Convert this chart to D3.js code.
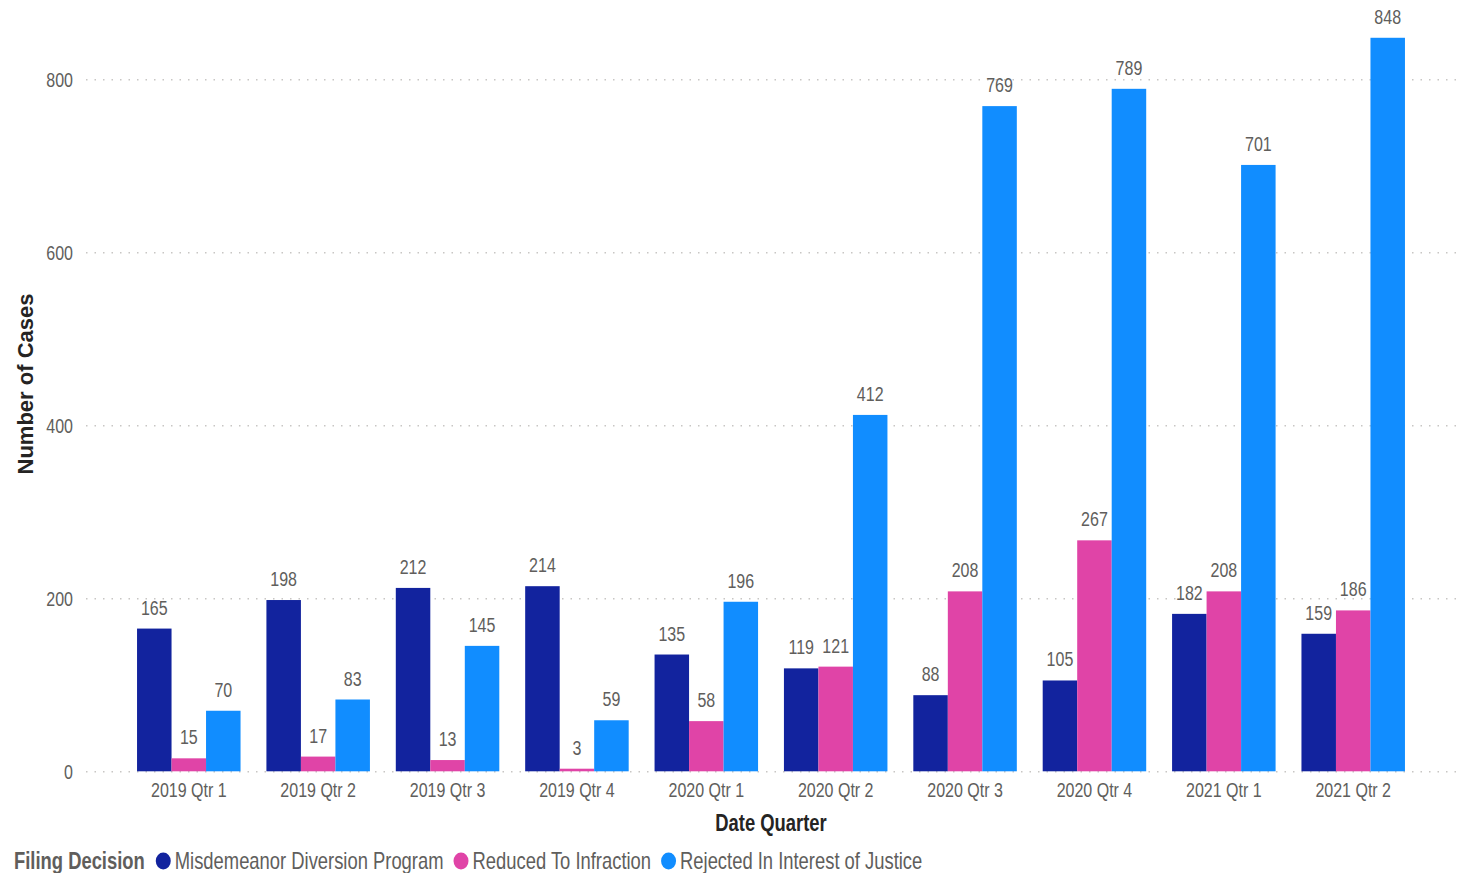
<!DOCTYPE html>
<html>
<head>
<meta charset="utf-8">
<script src="https://cdn.jsdelivr.net/npm/d3@7"></script>
<style>
  html, body { margin: 0; padding: 0; background: #fff; }
  svg { display: block; }
  text { font-family: 'Liberation Sans', Arial, sans-serif; }
</style>
</head>
<body>
<svg id="chart" width="1468" height="873"></svg>
<script>
const categories = ["2019 Qtr 1","2019 Qtr 2","2019 Qtr 3","2019 Qtr 4","2020 Qtr 1","2020 Qtr 2","2020 Qtr 3","2020 Qtr 4","2021 Qtr 1","2021 Qtr 2"];
const seriesNames = ["Misdemeanor Diversion Program","Reduced To Infraction","Rejected In Interest of Justice"];
const misdemeanorDiversion = [165,198,212,214,135,119,88,105,182,159];
const reducedToInfraction = [15,17,13,3,58,121,208,267,208,186];
const rejectedInterestJustice = [70,83,145,59,196,412,769,789,701,848];
const yTickValues = [0,200,400,600,800];
const seriesColors = ["#12239E","#E044A7","#118DFF"];

const SX = 0.8; // horizontal squeeze of text, as in the reference
const seriesValues = [misdemeanorDiversion, reducedToInfraction, rejectedInterestJustice];
const rows = categories.map((c, i) => ({
  cat: c,
  vals: seriesNames.map((s, k) => ({ series: s, k, value: seriesValues[k][i] }))
}));

const svg = d3.select("#chart");
const tickColor = "#605E5C";
const titleColor = "#252423";

const x0 = d3.scaleBand().domain(categories).range([124.1, 1417.9]).paddingInner(0.2).paddingOuter(0.1);
const x1 = d3.scaleBand().domain(seriesNames).range([0, x0.bandwidth()]);
const y = d3.scaleLinear().domain([0, 800]).range([771.3, 79.3]);
const color = d3.scaleOrdinal().domain(seriesNames).range(seriesColors);

// Y axis with gridlines
const gridLeft = 86, gridRight = 1460;
const yAxis = svg.append("g")
  .attr("transform", `translate(${gridLeft},0)`)
  .call(d3.axisLeft(y).tickValues(yTickValues).tickSize(-(gridRight - gridLeft)).tickPadding(13).tickFormat(d3.format("d")));
yAxis.select(".domain").remove();
yAxis.selectAll(".tick line")
  .attr("stroke", "#C8C6C4")
  .attr("stroke-width", 1.5)
  .attr("stroke-dasharray", "1.5,7");
yAxis.selectAll(".tick text")
  .attr("fill", tickColor)
  .style("font-size", "20px")
  .attr("x", -13 / SX)
  .attr("dy", "0.35em")
  .attr("transform", `scale(${SX},1)`);

// Bars
const groups = svg.append("g").selectAll("g")
  .data(rows).join("g")
  .attr("transform", d => `translate(${x0(d.cat)},0)`);

groups.selectAll("rect")
  .data(d => d.vals).join("rect")
  .attr("x", d => x1(d.series))
  .attr("width", x1.bandwidth())
  .attr("y", d => y(d.value))
  .attr("height", d => y(0) - y(d.value))
  .attr("fill", d => color(d.series));

groups.selectAll("text.lbl")
  .data(d => d.vals).join("text")
  .attr("class", "lbl")
  .attr("transform", d => `translate(${x1(d.series) + x1.bandwidth() / 2},${y(d.value) - 14}) scale(${SX},1)`)
  .attr("text-anchor", "middle")
  .attr("fill", tickColor)
  .style("font-size", "20px")
  .text(d => d.value);

// X axis
const xAxis = svg.append("g")
  .attr("transform", `translate(0,${y(0)})`)
  .call(d3.axisBottom(x0).tickSize(0).tickPadding(0));
xAxis.select(".domain").remove();
xAxis.selectAll(".tick text")
  .attr("fill", tickColor)
  .style("font-size", "20px")
  .attr("dy", null)
  .attr("y", 26)
  .attr("transform", `scale(${SX},1)`);

// Axis titles
svg.append("text")
  .attr("transform", `translate(771,831) scale(${SX},1)`)
  .attr("text-anchor", "middle")
  .attr("fill", titleColor)
  .style("font-size", "23px")
  .style("font-weight", "bold")
  .text("Date Quarter");

svg.append("text")
  .attr("transform", "translate(33,384) rotate(-90)")
  .attr("text-anchor", "middle")
  .attr("fill", titleColor)
  .style("font-size", "22px")
  .style("font-weight", "bold")
  .text("Number of Cases");

// Legend
const legend = svg.append("g").attr("transform", "translate(14,869)");
const lt = legend.append("text")
  .attr("transform", `scale(${SX},1)`)
  .attr("fill", tickColor)
  .style("font-size", "23px")
  .style("font-weight", "bold")
  .text("Filing Decision");
let cx = lt.node().getComputedTextLength() * SX + 11;
seriesNames.forEach((s, k) => {
  legend.append("ellipse")
    .attr("cx", cx + 7.5).attr("cy", -8).attr("rx", 7.5).attr("ry", 8.5)
    .attr("fill", color(s));
  const t = legend.append("text")
    .attr("transform", `translate(${cx + 19},0) scale(${SX},1)`)
    .attr("fill", tickColor)
    .style("font-size", "23px")
    .text(s);
  cx = cx + 19 + t.node().getComputedTextLength() * SX + 10;
});
</script>
</body>
</html>
